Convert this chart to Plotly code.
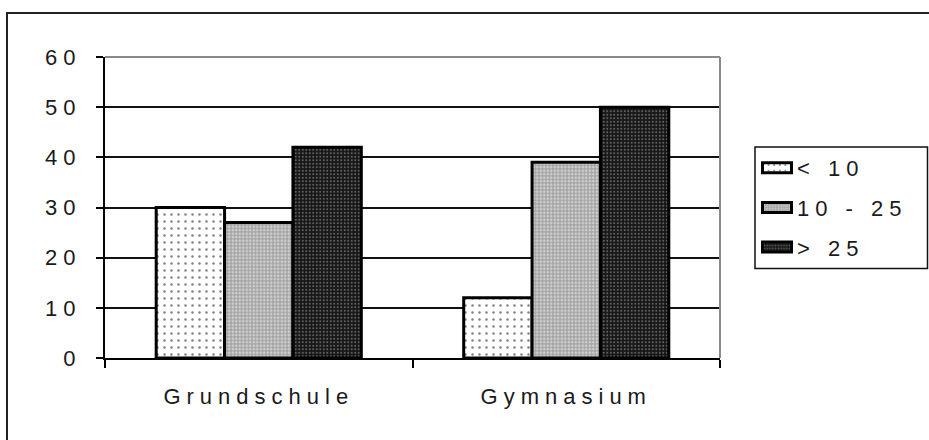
import plotly.graph_objects as go

# Data
categories = ["Grundschule", "Gymnasium"]
series_names = ["< 10", "10 - 25", "> 25"]
values_lt10 = [30, 12]
values_10_25 = [27, 39]
values_gt25 = [42, 50]
y_ticks = [0, 10, 20, 30, 40, 50, 60]

# Canvas and plot-area geometry (pixels)
W, H = 929, 440
ML, MR, MT, MB = 105, 209, 57, 82
PW = W - ML - MR
PH = H - MT - MB


def px_x(px):
    return (px - ML) / PW


def px_y(py):
    return (H - MB - py) / PH


FONT = "Liberation Sans, Arial, sans-serif"
FONT_SIZE = 22
TEXT_COLOR = "#1a1a1a"

patterns = [
    dict(shape=".", bgcolor="white", fgcolor="black", size=7, solidity=0.1),
    dict(shape=".", bgcolor="#a4a4a4", fgcolor="white", size=3.5, solidity=0.4),
    dict(shape=".", bgcolor="#141414", fgcolor="#a8a8a8", size=3.5, solidity=0.3),
]

fig = go.Figure()
for name, vals, pat in zip(series_names, [values_lt10, values_10_25, values_gt25], patterns):
    fig.add_trace(go.Bar(
        x=categories, y=vals, name=name, legendgroup=name,
        marker=dict(pattern=pat, line=dict(color="black", width=3)),
        hoverinfo="skip",
    ))

shapes = [
    # grey frame on top and right of the plot area
    dict(type="line", xref="paper", yref="paper", x0=0, x1=1, y0=1, y1=1,
         line=dict(color="#8a8a8a", width=2), layer="above"),
    dict(type="line", xref="paper", yref="paper", x0=1, x1=1, y0=0, y1=1,
         line=dict(color="#8a8a8a", width=2), layer="above"),
    # outer chart frame
    dict(type="rect", xref="paper", yref="paper",
         x0=px_x(7), x1=px_x(1200), y0=px_y(700), y1=px_y(13),
         line=dict(color="#222", width=2), fillcolor="rgba(0,0,0,0)", layer="below"),
    # legend frame
    dict(type="rect", xref="paper", yref="paper",
         x0=px_x(755), x1=px_x(927.5), y0=px_y(268.5), y1=px_y(147),
         line=dict(color="#111", width=1.5), fillcolor="rgba(0,0,0,0)"),
]

fig.update_layout(
    width=W, height=H,
    margin=dict(l=ML, r=MR, t=MT, b=MB, pad=0),
    paper_bgcolor="white", plot_bgcolor="white",
    barmode="group", bargap=0.333, bargroupgap=0,
    font=dict(family=FONT, size=FONT_SIZE, color=TEXT_COLOR),
    showlegend=True,
    legend=dict(
        x=px_x(757), y=px_y(147), xanchor="left", yanchor="top",
        bgcolor="rgba(0,0,0,0)", borderwidth=0,
        traceorder="grouped", tracegroupgap=8,
        font=dict(family=FONT, size=FONT_SIZE, color=TEXT_COLOR),
    ),
    xaxis=dict(
        type="category", showline=True, linecolor="black", linewidth=2,
        ticks="outside", ticklen=8, tickwidth=1.5, tickcolor="black",
        tickson="boundaries", showgrid=False, ticklabelstandoff=18,
        tickfont=dict(family=FONT, size=FONT_SIZE, color=TEXT_COLOR),
    ),
    yaxis=dict(
        range=[0, 60], tickvals=y_ticks, showline=True, linecolor="black", linewidth=2,
        ticks="outside", ticklen=7, tickwidth=1.5, tickcolor="black",
        showgrid=True, gridcolor="#111", gridwidth=1.5, zeroline=False,
        ticklabelstandoff=10,
        tickfont=dict(family=FONT, size=FONT_SIZE, color=TEXT_COLOR),
    ),
    shapes=shapes,
)

# Widen the letter spacing of axis and legend labels, lift the legend clip
# so the wider entries stay visible, and draw the legend keys as flat bars.
spacing_js = """
var gd = document.getElementById('{plot_id}');
function styleText() {
  gd.querySelectorAll('.xtick text, .ytick text, .legendtext').forEach(function (t) {
    t.style.letterSpacing = '6px';
  });
  gd.querySelectorAll('.legend [clip-path]').forEach(function (e) {
    e.removeAttribute('clip-path');
  });
  gd.querySelectorAll('.legend .legendpoints path').forEach(function (p) {
    p.setAttribute('d', 'M14.5,5H-14.5V-5H14.5Z');
  });
}
styleText();
if (gd.on) { gd.on('plotly_afterplot', styleText); }
setTimeout(styleText, 50);
"""

fig.write_html("out.html", post_script=spacing_js)
